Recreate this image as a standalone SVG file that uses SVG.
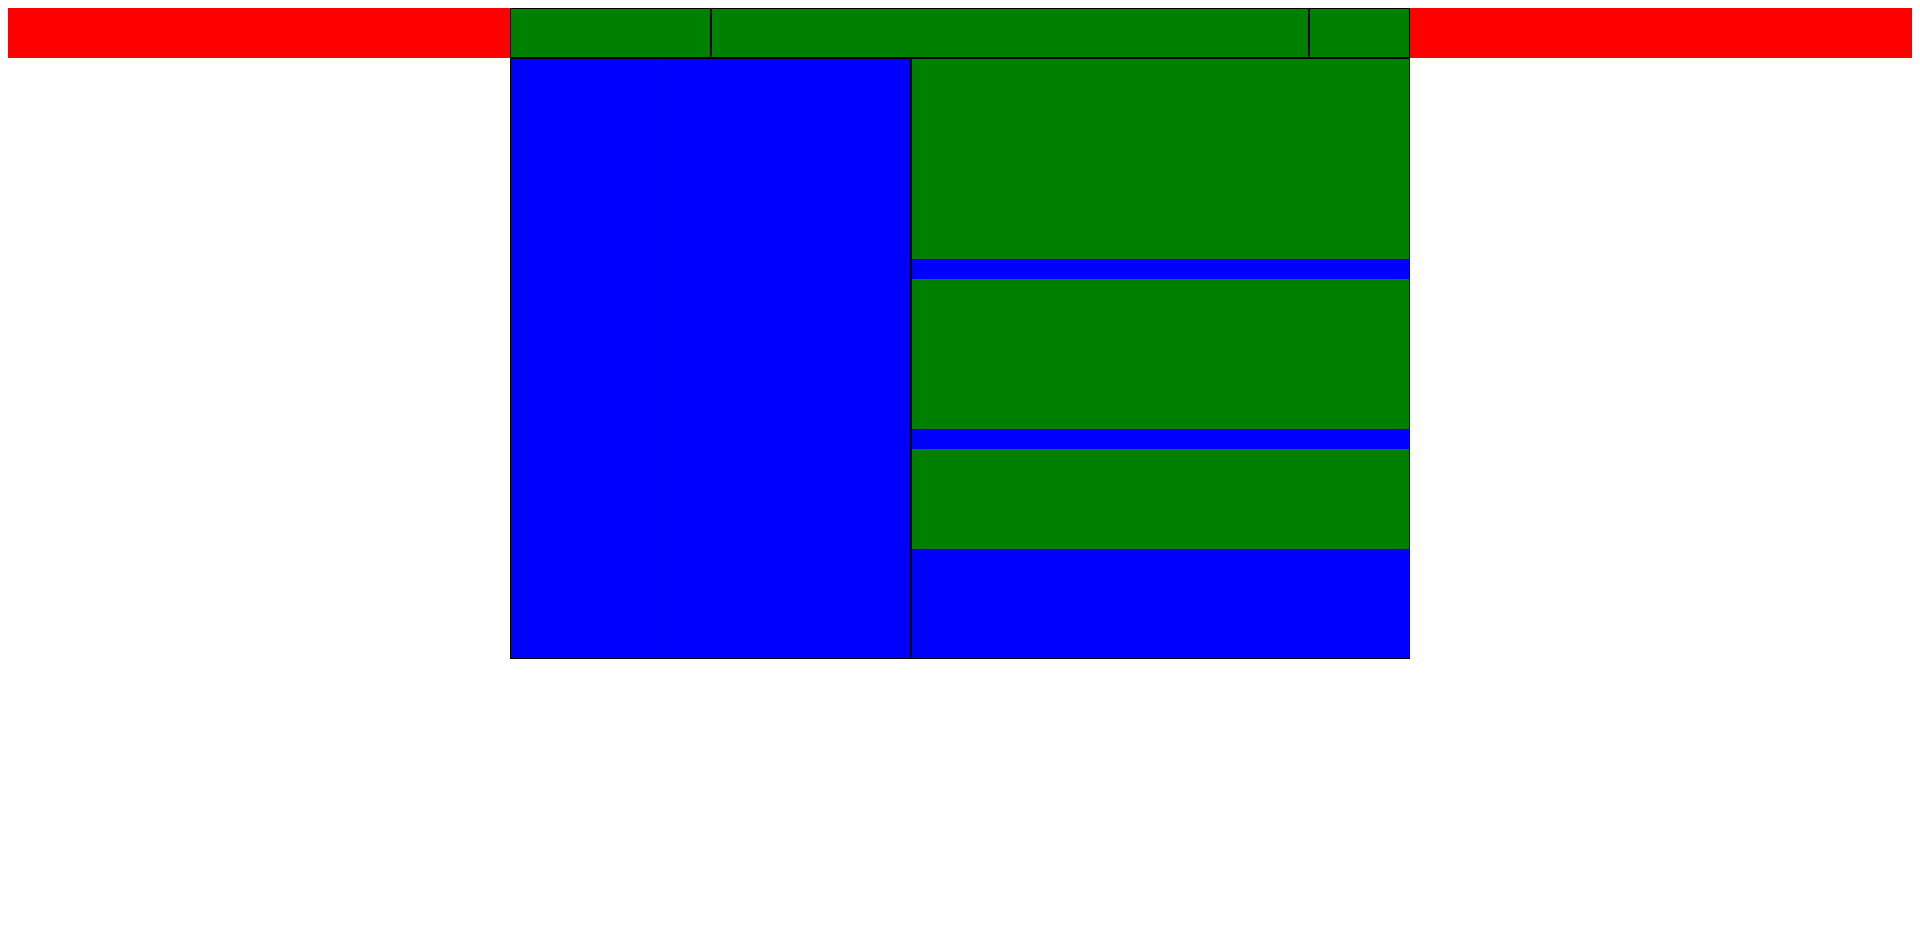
<svg xmlns="http://www.w3.org/2000/svg" width="1920" height="937" viewBox="0 0 1920 937">
<style>
.red{fill:#ff0000}
.g{fill:#008000;stroke:#000;stroke-width:1}
.b{fill:#0000ff;stroke:#000;stroke-width:1}
.gi{fill:#008000}
</style>
<rect width="1920" height="937" fill="#fff"/>
<g id="topbar"><rect class="red" x="8" y="8" width="1904" height="50"/></g>
<g id="header">
<rect id="h1" class="g" x="510.5" y="8.5" width="200" height="49"/>
<rect id="h2" class="g" x="711.5" y="8.5" width="597" height="49"/>
<rect id="h3" class="g" x="1309.5" y="8.5" width="100" height="49"/>
</g>
<g id="col1"><rect class="b" x="510.5" y="58.5" width="151" height="600"/></g>
<g id="col2"><rect class="b" x="661.5" y="58.5" width="249" height="600"/></g>
<g id="panel">
<rect class="b" x="911.5" y="58.5" width="498" height="600"/>
<rect id="p1" class="gi" x="912" y="59" width="497" height="200"/>
<rect id="p2" class="gi" x="912" y="279" width="497" height="150"/>
<rect id="p3" class="gi" x="912" y="449" width="497" height="100"/>
<rect x="1409" y="58" width="1" height="601" fill="#000"/>
</g>
<g id="connectors"></g>
</svg>
